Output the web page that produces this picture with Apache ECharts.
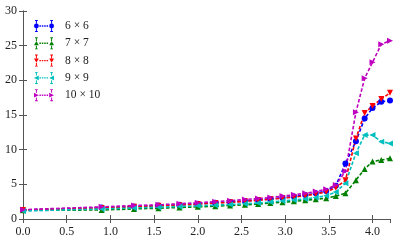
<!DOCTYPE html>
<html>
<head>
<meta charset="utf-8">
<script src="https://cdn.jsdelivr.net/npm/echarts@6/dist/echarts.min.js"></script>
<style>
html, body { margin: 0; padding: 0; background: #fff; }
#chart { width: 395px; height: 244px; }
</style>
</head>
<body>
<div id="chart"></div>
<script>
// x positions of the samples
var xs = [0, 0.9, 1.27, 1.55, 1.79, 2.0, 2.2, 2.37, 2.54, 2.69, 2.83, 2.97, 3.1, 3.23, 3.35, 3.47, 3.58, 3.69, 3.81, 3.91, 4.0, 4.1, 4.2];

var names = ['6 × 6', '7 × 7', '8 × 8', '9 × 9', '10 × 10'];
var s6 = [1.3, 1.65, 1.8, 1.95, 2.05, 2.2, 2.35, 2.45, 2.6, 2.75, 2.9, 3.05, 3.25, 3.45, 3.7, 4.05, 4.8, 8.0, 11.2, 14.5, 16.0, 16.9, 17.1];
var s7 = [1.25, 1.3, 1.45, 1.55, 1.65, 1.75, 1.85, 1.95, 2.05, 2.15, 2.3, 2.4, 2.55, 2.7, 2.85, 3.0, 3.3, 3.7, 5.6, 7.2, 8.3, 8.5, 8.75];
var s8 = [1.3, 1.6, 1.75, 1.9, 2.0, 2.15, 2.3, 2.4, 2.55, 2.7, 2.85, 3.0, 3.15, 3.35, 3.6, 3.9, 4.5, 5.6, 11.6, 15.3, 16.3, 17.3, 18.2];
var s9 = [1.15, 1.45, 1.6, 1.7, 1.8, 1.9, 2.0, 2.1, 2.2, 2.3, 2.45, 2.6, 2.75, 2.9, 3.1, 3.35, 3.9, 5.15, 9.5, 12.1, 12.1, 11.15, 10.9];
var s10 = [1.35, 1.75, 1.95, 2.05, 2.2, 2.35, 2.5, 2.65, 2.8, 2.95, 3.1, 3.3, 3.5, 3.7, 3.95, 4.3, 4.9, 6.9, 15.4, 20.3, 22.6, 25.2, 25.7];

var allSeries = [s6, s7, s8, s9, s10];
var colors = ['#0000ff', '#007f00', '#ff0000', '#00bfbf', '#bf00bf'];
var symbols = ['circle', 'triangle', 'triangle', 'triangle', 'triangle'];
var rotations = [0, 0, 180, 90, -90];
var markerKinds = ['circle', 'up', 'down', 'left', 'right'];

// legend icon: marker - dashes - marker, each marker with an error bar (200 x 120 box)
function rect(x0, y0, x1, y1) {
  return 'M' + x0 + ' ' + y0 + ' H' + x1 + ' V' + y1 + ' H' + x0 + ' Z ';
}
function marker(kind, cx) {
  var h = 24, cy = 60;
  if (kind === 'circle') {
    return 'M' + (cx - h) + ' ' + cy + ' A' + h + ' ' + h + ' 0 1 1 ' + (cx + h) + ' ' + cy +
      ' A' + h + ' ' + h + ' 0 1 1 ' + (cx - h) + ' ' + cy + ' Z ';
  }
  if (kind === 'up') return 'M' + (cx - h) + ' 80 L' + (cx + h) + ' 80 L' + cx + ' 38 Z ';
  if (kind === 'down') return 'M' + (cx - h) + ' 40 L' + (cx + h) + ' 40 L' + cx + ' 82 Z ';
  if (kind === 'left') return 'M' + (cx - h) + ' 60 L' + (cx + h) + ' 36 L' + (cx + h) + ' 84 Z ';
  return 'M' + (cx - h) + ' 36 L' + (cx + h) + ' 60 L' + (cx - h) + ' 84 Z ';
}
function legendIcon(kind) {
  var p = '';
  [24, 176].forEach(function (cx) {
    p += rect(cx - 5, 0, cx + 5, 36) + rect(cx - 5, 84, cx + 5, 120);
    p += rect(cx - 14, 0, cx + 14, 9) + rect(cx - 14, 111, cx + 14, 120);
    p += marker(kind, cx);
  });
  for (var x = 54; x < 146; x += 24) p += rect(x, 53, x + 15, 67);
  return 'path://' + p;
}

var font = 'Liberation Serif';

var series = allSeries.map(function (vals, k) {
  return {
    name: names[k],
    type: 'line',
    data: xs.map(function (x, i) { return [x, vals[i]]; }),
    symbol: symbols[k],
    symbolSize: 6,
    symbolRotate: rotations[k],
    color: colors[k],
    lineStyle: { width: 1.6, type: [3.5, 2] },
    itemStyle: { color: colors[k] },
    clip: true
  };
});

var axisLine = { show: true, lineStyle: { color: '#555', width: 1 } };
var axisTick = { show: true, inside: true, length: 4, lineStyle: { color: '#555' } };

var chart = echarts.init(document.getElementById('chart'));
chart.setOption({
  animation: false,
  backgroundColor: '#fff',
  grid: { left: 23, right: 5, top: 11, bottom: 25 },
  legend: {
    orient: 'vertical',
    left: 34,
    top: 20,
    padding: 0,
    itemWidth: 22,
    itemHeight: 12,
    itemGap: 5.3,
    itemStyle: { borderWidth: 0 },
    textStyle: { fontFamily: font, fontSize: 11.5, color: '#222', padding: [0, 0, 0, 5] },
    data: names.map(function (n, k) { return { name: n, icon: legendIcon(markerKinds[k]) }; })
  },
  xAxis: [{
    type: 'value', min: 0, max: 4.2, interval: 0.5,
    axisLine: axisLine, axisTick: axisTick, splitLine: { show: false },
    axisLabel: {
      fontFamily: font, fontSize: 12, color: '#222', margin: 7, showMaxLabel: false,
      formatter: function (v) { return v.toFixed(1); }
    }
  }, {
    type: 'value', min: 0, max: 4.2, interval: 0.5, position: 'top',
    axisLine: axisLine, axisTick: axisTick, splitLine: { show: false },
    axisLabel: { show: false }
  }],
  yAxis: [{
    type: 'value', min: 0, max: 30, interval: 5,
    axisLine: axisLine, axisTick: axisTick, splitLine: { show: false },
    axisLabel: { fontFamily: font, fontSize: 12, color: '#222', margin: 6 }
  }, {
    type: 'value', min: 0, max: 30, interval: 5, position: 'right',
    axisLine: axisLine, axisTick: axisTick, splitLine: { show: false },
    axisLabel: { show: false }
  }],
  series: series
});
</script>
</body>
</html>
